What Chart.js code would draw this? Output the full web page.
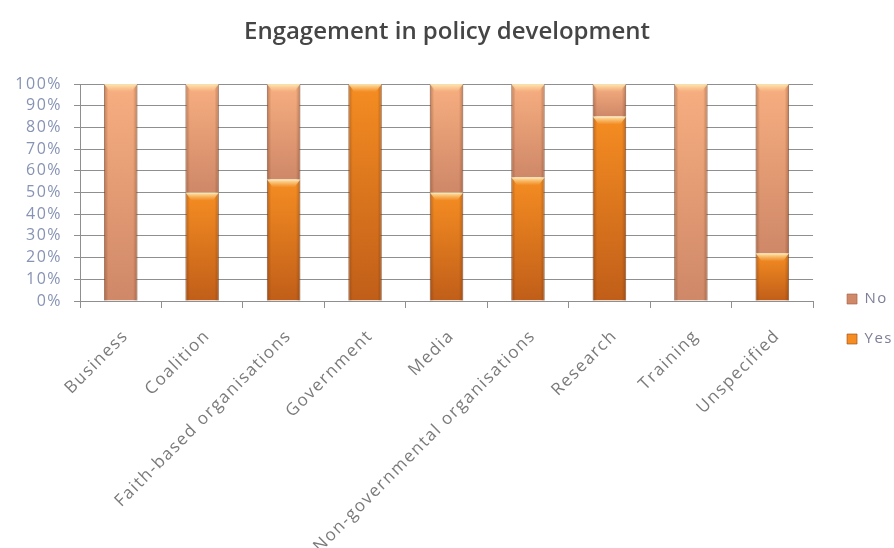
<!DOCTYPE html>
<html>
<head>
<meta charset="utf-8">
<title>Engagement in policy development</title>
<script src="https://cdn.jsdelivr.net/npm/chart.js@4.4.1/dist/chart.umd.min.js"></script>
<style>
  html, body { margin: 0; padding: 0; background: #fff; }
  #wrap { width: 894px; height: 548px; }
</style>
</head>
<body>
<div id="wrap"><canvas id="chart" width="894" height="548"></canvas></div>
<script>
// Data (percent of organisations)
const categories = [
    'Business', 'Coalition', 'Faith-based organisations', 'Government', 'Media',
    'Non-governmental organisations', 'Research', 'Training', 'Unspecified'
];
const yesValues = [0, 50, 56, 100, 50, 57, 85, 0, 22];
const noValues = [100, 50, 44, 0, 50, 43, 15, 100, 78];
const percentTicks = [0, 10, 20, 30, 40, 50, 60, 70, 80, 90, 100];

const FONT = '"Open Sans", "Noto Sans", sans-serif';

// Each stacked segment gets its own top-to-bottom gradient
function segmentFill(light, dark, fromArr, toArr) {
    return (c) => {
        const chart = c.chart;
        if (c.type !== 'data' || !chart.chartArea) return light;
        const y = chart.scales.y;
        const i = c.dataIndex;
        const top = y.getPixelForValue(toArr[i]);
        const bottom = y.getPixelForValue(fromArr[i]);
        if (!isFinite(top) || !isFinite(bottom) || bottom - top < 1) return light;
        const g = chart.ctx.createLinearGradient(0, top, 0, bottom);
        g.addColorStop(0, light);
        g.addColorStop(1, dark);
        return g;
    };
}

const zeros = categories.map(() => 0);
const yesTops = yesValues.slice();
const noTops = yesValues.map((v, i) => v + noValues[i]);

// Letter spacing for axis and legend text (the title is drawn without it)
const spacing = {
    id: 'spacing',
    beforeLayout(chart) { chart.ctx.letterSpacing = '1.5px'; },
    beforeDraw(chart) { chart.ctx.letterSpacing = '1.5px'; }
};

// Darker sides and a light cap on each bar segment
const bevel = {
    id: 'bevel',
    afterDatasetsDraw(chart) {
        const ctx = chart.ctx;
        chart.data.datasets.forEach((ds, di) => {
            chart.getDatasetMeta(di).data.forEach(bar => {
                const { x, y, base, width } = bar.getProps(['x', 'y', 'base', 'width'], true);
                const h = base - y;
                if (h < 1) return;
                const left = x - width / 2;
                const right = x + width / 2;
                ctx.save();
                const side = ctx.createLinearGradient(left, 0, right, 0);
                side.addColorStop(0, 'rgba(90,40,10,0.35)');
                side.addColorStop(0.13, 'rgba(90,40,10,0)');
                side.addColorStop(0.87, 'rgba(90,40,10,0)');
                side.addColorStop(1, 'rgba(90,40,10,0.35)');
                ctx.fillStyle = side;
                ctx.fillRect(left, y, width, h);

                const cap = Math.min(8, h);
                const g = ctx.createLinearGradient(0, y, 0, y + cap);
                g.addColorStop(0, 'rgba(255,238,185,0.95)');
                g.addColorStop(1, 'rgba(255,215,150,0)');
                ctx.beginPath();
                ctx.moveTo(left, y);
                ctx.lineTo(right, y);
                ctx.lineTo(right - 6, y + cap);
                ctx.lineTo(left + 6, y + cap);
                ctx.closePath();
                ctx.fillStyle = g;
                ctx.fill();
                ctx.restore();
            });
        });
    }
};

// Move the legend down and right, next to the bottom of the plot
const legendNudge = {
    id: 'legendNudge',
    afterLayout(chart) {
        const lg = chart.legend;
        lg.left += 9; lg.right += 9;
        lg.top += 45; lg.bottom += 45;
    }
};

const chart = new Chart(document.getElementById('chart'), {
    type: 'bar',
    data: {
        labels: categories,
        datasets: [
            {
                label: 'Yes',
                data: yesValues,
                backgroundColor: segmentFill('#f58d22', '#c05e19', zeros, yesTops),
                borderColor: 'rgba(150,70,20,0.6)',
                borderWidth: 1,
                barPercentage: 0.41,
                categoryPercentage: 1
            },
            {
                label: 'No',
                data: noValues,
                backgroundColor: segmentFill('#f7ae80', '#cf8868', yesTops, noTops),
                borderColor: 'rgba(160,90,60,0.6)',
                borderWidth: 1,
                barPercentage: 0.41,
                categoryPercentage: 1
            }
        ]
    },
    options: {
        responsive: false,
        animation: false,
        layout: { padding: 0 },
        plugins: {
            title: {
                display: true,
                text: 'Engagement in policy development',
                color: '#454545',
                font: { family: FONT, size: 24, weight: '600' },
                padding: { top: 18, bottom: 37.2 }
            },
            legend: {
                position: 'right',
                reverse: true,
                maxWidth: 83,
                labels: {
                    boxWidth: 10,
                    boxHeight: 10,
                    padding: 25,
                    color: '#7d7f98',
                    font: { family: FONT, size: 15 }
                }
            },
            tooltip: { enabled: false }
        },
        scales: {
            x: {
                stacked: true,
                grid: { drawOnChartArea: false, drawTicks: true, tickLength: 7, color: '#8f8f8f', offset: true },
                border: { color: '#8f8f8f' },
                ticks: {
                    color: '#7a7a7a',
                    font: { family: FONT, size: 17 },
                    minRotation: 45,
                    maxRotation: 45,
                    autoSkip: false,
                    padding: 18,
                    labelOffset: 5
                },
                afterFit: s => { s.height = 247; }
            },
            y: {
                stacked: true,
                min: 0,
                max: 100,
                afterBuildTicks: s => { s.ticks = percentTicks.map(v => ({ value: v })); },
                ticks: {
                    color: '#8793b4',
                    font: { family: FONT, size: 16 },
                    padding: 12,
                    autoSkip: false,
                    callback: v => v + '%'
                },
                grid: { color: '#8f8f8f', tickLength: 6 },
                border: { color: '#8f8f8f' },
                afterFit: s => { s.width = 80; }
            }
        }
    },
    plugins: [spacing, bevel, legendNudge]
});

// Title keeps normal letter spacing
const titleBlock = chart.titleBlock;
const drawTitle = titleBlock.draw.bind(titleBlock);
titleBlock.draw = function () {
    const c = chart.ctx;
    c.save();
    c.letterSpacing = '0px';
    drawTitle();
    c.restore();
};
chart.draw();
</script>
</body>
</html>
